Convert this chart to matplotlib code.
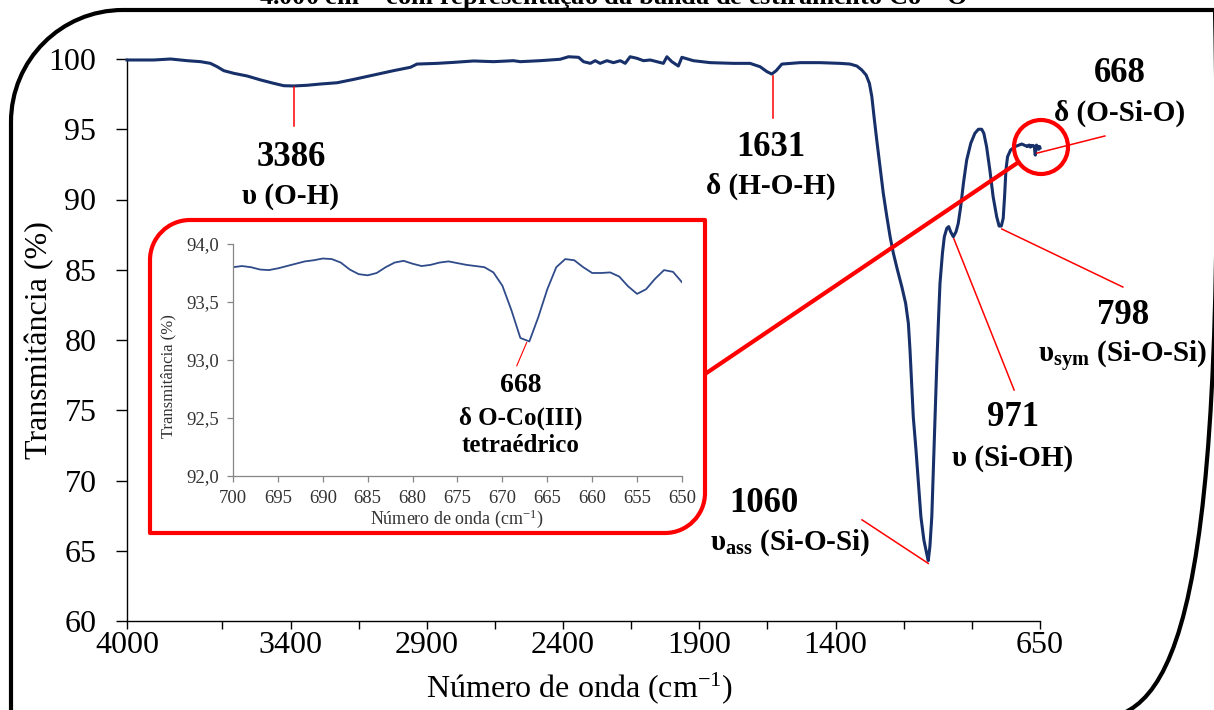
import matplotlib
matplotlib.use('Agg')
import matplotlib.pyplot as plt
from matplotlib.patches import Circle, PathPatch
from matplotlib.path import Path
from matplotlib.ticker import FuncFormatter

plt.rcParams['font.family'] = ['Liberation Serif', 'DejaVu Serif']
plt.rcParams['mathtext.fontset'] = 'custom'
plt.rcParams['mathtext.rm'] = 'Liberation Serif'
plt.rcParams['mathtext.it'] = 'Liberation Serif:italic'
plt.rcParams['mathtext.bf'] = 'Liberation Serif:bold'

# ---------------- data ----------------
wavenumber = [4000, 3902, 3840, 3779, 3730, 3694, 3669, 3645, 3608, 3559, 3510, 3462, 3425,
              3388, 3339, 3290, 3229, 3168, 3095, 3022, 2960, 2936, 2862, 2802, 2728, 2655,
              2582, 2557, 2484, 2411, 2380, 2343, 2325, 2300, 2282, 2264, 2239, 2215, 2190,
              2172, 2154, 2129, 2105, 2080, 2056, 2032, 2019, 2001, 1977, 1964, 1922, 1860,
              1775, 1714, 1677, 1652, 1634, 1618, 1597, 1530, 1457, 1384, 1347, 1322, 1304,
              1288, 1276, 1267, 1259, 1249, 1237, 1225, 1212, 1200, 1188, 1173, 1157, 1143,
              1133, 1127, 1121, 1115, 1105, 1096, 1087, 1076, 1066, 1060, 1054, 1047, 1041,
              1035, 1029, 1023, 1017, 1008, 1001, 992, 985, 978, 968, 958, 950, 941, 931,
              919, 904, 889, 876, 864, 856, 846, 834, 822, 809, 800, 792, 785, 780, 775,
              769, 758, 742, 717]
transmittance = [99.93, 99.93, 100.00, 99.88, 99.81, 99.69, 99.45, 99.17, 98.98, 98.79, 98.51,
                 98.27, 98.10, 98.08, 98.13, 98.22, 98.31, 98.55, 98.86, 99.17, 99.41, 99.64,
                 99.69, 99.76, 99.86, 99.81, 99.88, 99.81, 99.88, 99.98, 100.16, 100.12, 99.81,
                 99.69, 99.88, 99.69, 99.88, 99.74, 99.88, 99.69, 100.16, 100.05, 99.88, 99.93,
                 99.81, 99.69, 100.16, 99.81, 99.50, 100.12, 99.88, 99.74, 99.69, 99.69, 99.45,
                 99.10, 98.93, 99.17, 99.64, 99.74, 99.74, 99.69, 99.64, 99.50, 99.22, 98.86,
                 98.27, 97.32, 95.90, 94.23, 92.33, 90.44, 88.78, 87.35, 86.17, 84.98, 83.79,
                 82.61, 81.19, 79.29, 76.92, 74.54, 72.17, 69.80, 67.42, 65.76, 64.82, 64.30,
                 65.30, 67.42, 70.98, 74.54, 78.10, 81.19, 84.03, 86.17, 87.35, 87.95, 88.07,
                 87.71, 87.35, 87.71, 88.30, 89.49, 91.15, 92.81, 94.00, 94.71, 95.00, 95.00,
                 94.71, 93.76, 92.10, 90.20, 88.78, 88.11, 88.11, 88.66, 90.20, 92.10, 93.05,
                 93.52, 93.76, 93.95]

inset_wavenumber = [700, 699, 698, 697, 696, 695, 694, 693, 692, 691, 690, 689, 688, 687, 686,
                    685, 684, 683, 682, 681, 680, 679, 678, 677, 676, 675, 674, 673, 672, 671,
                    670, 669, 668, 667, 666, 665, 664, 663, 662, 661, 660, 659, 658, 657, 656,
                    655, 654, 653, 652, 651, 650]
inset_transmittance = [93.80, 93.81, 93.80, 93.78, 93.775, 93.79, 93.81, 93.83, 93.85, 93.86, 93.875,
                       93.87, 93.84, 93.78, 93.74, 93.73, 93.75, 93.80, 93.84, 93.855, 93.83, 93.81,
                       93.82, 93.84, 93.85, 93.835, 93.82, 93.81, 93.80, 93.755, 93.64, 93.43, 93.19,
                       93.16, 93.37, 93.61, 93.80, 93.87, 93.86, 93.80, 93.75, 93.75, 93.755, 93.72,
                       93.635, 93.57, 93.61, 93.70, 93.775, 93.76, 93.67]

main_xticks = [4000, 3650, 3400, 3150, 2900, 2650, 2400, 2150, 1900, 1650, 1400, 1150, 900, 650]
main_xticklabels = ['4000', '', '3400', '', '2900', '', '2400', '', '1900', '', '1400', '', '', '650']
main_yticks = [60, 65, 70, 75, 80, 85, 90, 95, 100]
inset_xticks = [700, 695, 690, 685, 680, 675, 670, 665, 660, 655, 650]
inset_yticks = [92.0, 92.5, 93.0, 93.5, 94.0]

# ---------------- figure ----------------
W, H = 1214, 710
fig = plt.figure(figsize=(W / 100, H / 100), dpi=100)

line_color = '#17306a'
ax = fig.add_axes([127 / W, 1 - 621 / H, (1040 - 127) / W, (621 - 59) / H], zorder=1)
ax.plot(wavenumber + inset_wavenumber, transmittance + inset_transmittance,
        color=line_color, lw=2.2, clip_on=False, zorder=3, solid_joinstyle='round')
ax.set_xlim(4000, 650)
ax.set_ylim(60, 100)
ax.set_xticks(main_xticks)
ax.set_xticklabels(main_xticklabels)
ax.set_yticks(main_yticks)
for s in ['top', 'right']:
    ax.spines[s].set_visible(False)
for s in ['left', 'bottom']:
    ax.spines[s].set_linewidth(1.0)
ax.tick_params(axis='y', direction='out', length=8, width=1, labelsize=23, pad=14)
ax.tick_params(axis='x', direction='out', length=6, width=1, labelsize=23, pad=1)
ax.patch.set_alpha(0)

# pointer lines (data coords)
red = '#ff0000'
pointers = [((3386, 98.0), (3386, 95.2)),
            ((1631, 98.8), (1631, 95.8)),
            ((1060, 64.1), (1303, 67.2)),
            ((966, 87.2), (745, 76.44)),
            ((790, 87.9), (346, 83.77)),
            ((661, 93.3), (412, 94.52))]
for (x0, y0), (x1, y1) in pointers:
    ax.plot([x0, x1], [y0, y1], color=red, lw=1.1, clip_on=False, zorder=4)

# ---------------- overlay (pixel coordinates) ----------------
ov = fig.add_axes([0, 0, 1, 1], zorder=5)
ov.set_xlim(0, W)
ov.set_ylim(H, 0)
ov.set_autoscale_on(False)
ov.axis('off')


def two_corner_frame(L, T, R, B, r1, r2):
    k1 = 0.5523 * r1
    k2 = 0.5523 * r2
    verts = [(L, T + r1), (L, T + r1 - k1), (L + r1 - k1, T), (L + r1, T), (R, T), (R, B - r2),
             (R, B - r2 + k2), (R - r2 + k2, B), (R - r2, B), (L, B), (L, T + r1)]
    codes = [Path.MOVETO, Path.CURVE4, Path.CURVE4, Path.CURVE4, Path.LINETO, Path.LINETO,
             Path.CURVE4, Path.CURVE4, Path.CURVE4, Path.LINETO, Path.CLOSEPOLY]
    return Path(verts, codes)


ov.add_patch(PathPatch(two_corner_frame(11, 10, 1228, 720, 112, 140), fill=False, ec='black',
                       lw=3, joinstyle='round', clip_on=True))
ov.add_patch(PathPatch(two_corner_frame(150, 220, 705, 533, 40, 40), fill=False, ec=red,
                       lw=3, joinstyle='round'))

cx, cy, cr = 1041, 147, 27
ov.add_patch(Circle((cx, cy), cr, fill=False, ec=red, lw=3))
sx, sy = 705, 374
dx, dy = cx - sx, cy - sy
d = (dx ** 2 + dy ** 2) ** 0.5
ov.plot([sx, cx - cr * dx / d], [sy, cy - cr * dy / d], color=red, lw=3, solid_capstyle='butt')

num_kw = dict(ha='center', va='center', fontsize=25, fontweight='bold')
lab_kw = dict(ha='center', va='center', fontsize=21, fontweight='bold')
ov.text(291, 157, '3386', **num_kw)
ov.text(291, 196, 'υ (O-H)', **lab_kw)
ov.text(771, 147, '1631', **num_kw)
ov.text(771, 186, 'δ (H-O-H)', **lab_kw)
ov.text(1120, 73, '668', **num_kw)
ov.text(1120, 113, 'δ (O-Si-O)', **lab_kw)
ov.text(1123, 315, '798', **num_kw)
ov.text(1123, 357, r'$\mathbf{υ}_{\mathbf{sym}}$ (Si-O-Si)', **lab_kw)
ov.text(1013, 418, '971', **num_kw)
ov.text(1013, 458, 'υ (Si-OH)', **lab_kw)
ov.text(764, 503, '1060', **num_kw)
ov.text(790, 543, r'$\mathbf{υ}_{\mathbf{ass}}$ (Si-O-Si)', **lab_kw)

ov.text(40, 340, 'Transmitância (%)', rotation=90, ha='center', va='center', fontsize=23)
ov.text(580, 688, 'Número de onda (cm$^{-1}$)', ha='center', va='center', fontsize=23)

ov.text(613, 5, '4.000 cm$^{-1}$ com representação da banda de estiramento Co – O',
        ha='center', va='baseline', fontsize=19, fontweight='bold')

ov.text(168, 376, 'Transmitância (%)', rotation=90, ha='center', va='center', fontsize=12,
        color='#333333')
ov.text(457, 519, 'Número de onda (cm$^{-1}$)', ha='center', va='center', fontsize=13,
        color='#333333')

# ---------------- inset ----------------
ins = fig.add_axes([233 / W, 1 - 476 / H, (682 - 233) / W, (476 - 244) / H], zorder=6)
ins.patch.set_alpha(0)
ins.plot(inset_wavenumber, inset_transmittance, color='#2f4b8a', lw=1.3)
ins.set_xlim(700, 650)
ins.set_ylim(92, 94)
ins.set_xticks(inset_xticks)
ins.set_yticks(inset_yticks)
ins.yaxis.set_major_formatter(FuncFormatter(lambda v, p: f'{v:.1f}'.replace('.', ',')))
for s in ['top', 'right']:
    ins.spines[s].set_visible(False)
for s in ['left', 'bottom']:
    ins.spines[s].set_color('#868686')
    ins.spines[s].set_linewidth(0.9)
ins.tick_params(direction='out', length=4, width=0.9, color='#868686', labelcolor='#333333',
                labelsize=13.5, pad=6)
ins.plot([667.3, 668.4], [93.15, 92.95], color=red, lw=0.8)
ins.text(668, 92.78, '668', ha='center', va='center', fontsize=20, fontweight='bold')
ins.text(668, 92.50, 'δ O-Co(III)', ha='center', va='center', fontsize=18, fontweight='bold')
ins.text(668, 92.26, 'tetraédrico', ha='center', va='center', fontsize=18, fontweight='bold')

fig.savefig('out.png', dpi=100)
